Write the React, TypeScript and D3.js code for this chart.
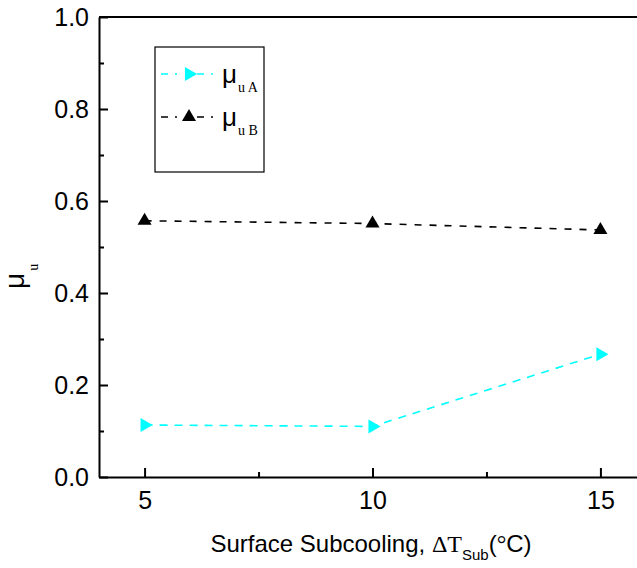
import { axisBottom, axisLeft, line, scaleLinear, select, symbol, symbolTriangle } from "d3";
import React, { useEffect, useRef } from "react";

const subcooling = [5, 10, 15];
const muA = [0.113, 0.11, 0.267];
const muB = [0.557, 0.551, 0.537];
const xTicks = [5, 10, 15];
const xMinorTicks = [7.5, 12.5];
const yTicks = [0, 0.2, 0.4, 0.6, 0.8, 1.0];
const yMinorTicks = [0.1, 0.3, 0.5, 0.7, 0.9];

const width = 637;
const height = 568;
const marginLeft = 99;
const marginTop = 17;
const plotBottom = 477;
const plotRight = 646;

const App = () => {
  const svgRef = useRef<SVGSVGElement>(null);

  useEffect(() => {
    const svg = select(svgRef.current);
    svg.selectAll("*").remove();

    const xScale = scaleLinear().domain([4, 16]).range([marginLeft, plotRight]);
    const yScale = scaleLinear().domain([0, 1]).range([plotBottom, marginTop]);

    const font = "'Liberation Sans', Arial, sans-serif";
    const serif = "'Liberation Serif', 'Times New Roman', serif";

    // frame: top line
    svg
      .append("line")
      .attr("x1", marginLeft)
      .attr("x2", plotRight)
      .attr("y1", marginTop)
      .attr("y2", marginTop)
      .attr("stroke", "#000")
      .attr("stroke-width", 2);

    const xAxis = axisBottom(xScale)
      .tickValues(xTicks)
      .tickSize(-9)
      .tickSizeOuter(0)
      .tickPadding(14);

    svg
      .append("g")
      .attr("transform", `translate(0,${plotBottom})`)
      .call(xAxis)
      .call((g) => g.select(".domain").attr("stroke-width", 2))
      .call((g) => g.selectAll(".tick line").attr("stroke-width", 2))
      .call((g) =>
        g.selectAll("text").style("font-family", font).style("font-size", "25px").attr("fill", "#000"),
      );

    svg
      .append("g")
      .attr("transform", `translate(0,${plotBottom})`)
      .call(axisBottom(xScale).tickValues(xMinorTicks).tickSize(-5).tickFormat(() => ""))
      .call((g) => g.select(".domain").remove())
      .call((g) => g.selectAll(".tick line").attr("stroke-width", 2));

    const yAxis = axisLeft(yScale)
      .tickValues(yTicks)
      .tickSize(-9)
      .tickSizeOuter(0)
      .tickPadding(10)
      .tickFormat((d) => (d as number).toFixed(1));

    svg
      .append("g")
      .attr("transform", `translate(${marginLeft},0)`)
      .call(yAxis)
      .call((g) => g.select(".domain").attr("stroke-width", 2))
      .call((g) => g.selectAll(".tick line").attr("stroke-width", 2))
      .call((g) =>
        g.selectAll("text").style("font-family", font).style("font-size", "25px").attr("fill", "#000"),
      );

    svg
      .append("g")
      .attr("transform", `translate(${marginLeft},0)`)
      .call(axisLeft(yScale).tickValues(yMinorTicks).tickSize(-5).tickFormat(() => ""))
      .call((g) => g.select(".domain").remove())
      .call((g) => g.selectAll(".tick line").attr("stroke-width", 2));

    const series = [
      { values: muA, color: "#00FFFF", rotate: 90, dash: "8,7", name: "A" },
      { values: muB, color: "#000000", rotate: 0, dash: "7,8", name: "B" },
    ];

    const tri = symbol().type(symbolTriangle).size(85);

    series.forEach((s) => {
      const pts = subcooling.map((x, i) => [x, s.values[i]] as [number, number]);
      const chartLine = line<[number, number]>()
        .x((d) => xScale(d[0]))
        .y((d) => yScale(d[1]));

      svg
        .append("path")
        .datum(pts)
        .attr("fill", "none")
        .attr("stroke", s.color)
        .attr("stroke-width", 1.6)
        .attr("stroke-dasharray", s.dash)
        .attr("d", chartLine);

      svg
        .selectAll(null)
        .data(pts)
        .enter()
        .append("path")
        .attr("d", tri)
        .attr("fill", s.color)
        .attr("transform", (d) => `translate(${xScale(d[0])},${yScale(d[1])}) rotate(${s.rotate})`);
    });

    // legend
    const legend = svg.append("g").attr("transform", "translate(155,47)");
    legend
      .append("rect")
      .attr("width", 109)
      .attr("height", 125)
      .attr("fill", "none")
      .attr("stroke", "#000")
      .attr("stroke-width", 1.2);

    series.forEach((s, i) => {
      const y = 27 + i * 43;
      [
        [6, 27],
        [42, 61],
      ].forEach(([x1, x2]) => {
        legend
          .append("line")
          .attr("x1", x1)
          .attr("x2", x2)
          .attr("y1", y)
          .attr("y2", y)
          .attr("stroke", s.color)
          .attr("stroke-width", 1.6)
          .attr("stroke-dasharray", "7,7,2,7");
      });
      legend
        .append("path")
        .attr("d", tri)
        .attr("fill", s.color)
        .attr("transform", `translate(34,${y}) rotate(${s.rotate})`);
      const label = legend
        .append("text")
        .attr("x", 67)
        .attr("y", y + 9)
        .style("font-family", font)
        .style("font-size", "26px");
      label.append("tspan").text("μ");
      label
        .append("tspan")
        .attr("dy", 9)
        .attr("dx", 1)
        .style("font-family", serif)
        .style("font-size", "14px")
        .text(`u ${s.name}`);
    });

    // y axis title
    const yTitle = svg
      .append("text")
      .attr("transform", `translate(24,289) rotate(-90)`)
      .style("font-family", font)
      .style("font-size", "28px");
    yTitle.append("tspan").text("μ");
    yTitle
      .append("tspan")
      .attr("dy", 14)
      .attr("dx", 2)
      .style("font-family", serif)
      .style("font-size", "14px")
      .text("u");

    // x axis title
    const xTitle = svg
      .append("text")
      .attr("x", 371)
      .attr("y", 552)
      .attr("text-anchor", "middle")
      .style("font-family", font)
      .style("font-size", "24px");
    xTitle.append("tspan").text("Surface Subcooling, ");
    xTitle.append("tspan").style("font-family", serif).text("ΔT");
    xTitle.append("tspan").attr("dy", 8).style("font-size", "15px").text("Sub");
    xTitle.append("tspan").attr("dy", -8).text("(");
    xTitle.append("tspan").style("font-family", serif).text("°");
    xTitle.append("tspan").text("C)");
  }, []);

  return (
    <div style={{ position: "fixed", left: 0, top: 0, width, height, background: "#fff" }}>
      <svg ref={svgRef} width={width} height={height} />
    </div>
  );
};

export default App;
